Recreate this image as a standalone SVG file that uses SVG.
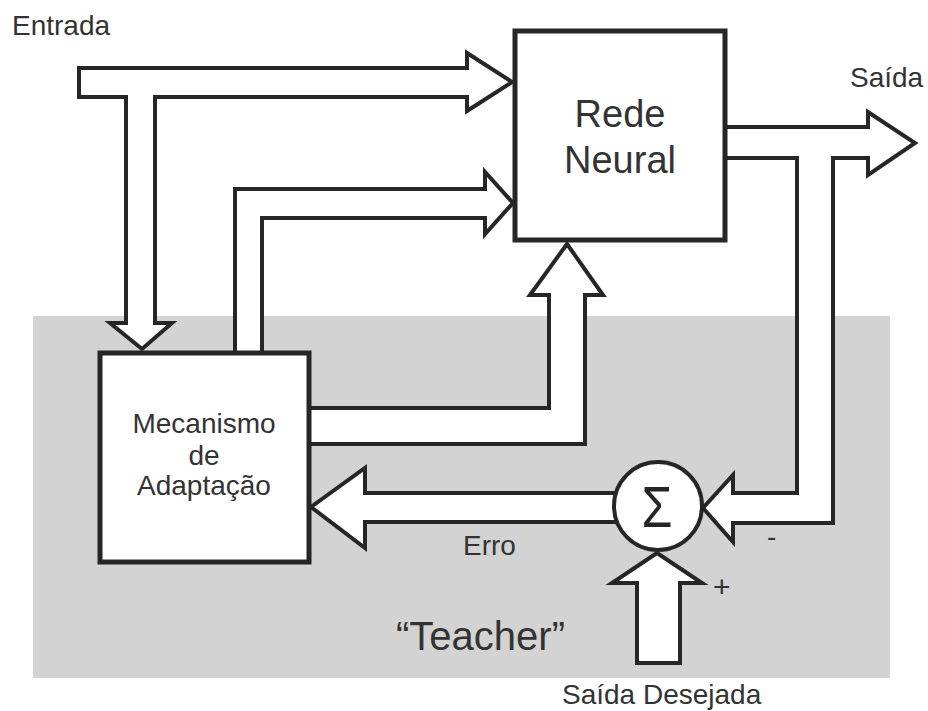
<svg xmlns="http://www.w3.org/2000/svg" width="928" height="711" viewBox="0 0 928 711">
<style>
.bg{fill:#d3d3d3}
.c{fill:#ffffff;stroke:#262626;stroke-width:4;stroke-linejoin:miter;stroke-miterlimit:10}
.box{fill:#ffffff;stroke:#262626;stroke-width:5}
text{font-family:"Liberation Sans",Arial,sans-serif;fill:#333333}
.t28{font-size:28px}
.t38{font-size:38px}
.mid{text-anchor:middle}
</style>
<rect width="928" height="711" fill="#ffffff"/>
<rect id="teacher-area" class="bg" x="33" y="316" width="857" height="362"/>
<g id="connectors">
<polygon class="c" points="79,68 467,68 467,53 512,82 467,111 467,97 155,97 155,323 172,323 142,349 110,323 126,323 126,97 79,97"/>
<polygon class="c" points="235,353 235,189 485,189 485,172 513,203 485,234 485,218 262,218 262,353"/>
<polygon class="c" points="309,408 549,408 549,295 530,295 567,244 603,295 585,295 585,444 309,444"/>
<polygon class="c" points="725,127 868,127 868,112 915,143 868,175 868,158 833,158 833,523 733,523 733,542 703,508 733,475 733,493 797,493 797,158 725,158"/>
<polygon class="c" points="620,493 365,493 365,468 311,507 365,548 365,522 620,522"/>
<polygon class="c" points="637,663 637,583 612,583 657,553 702,583 680,583 680,663"/>
</g>
<g id="rede-neural">
<rect class="box" x="515" y="31" width="210" height="209"/>
<text class="t38 mid" x="620" y="127">Rede</text>
<text class="t38 mid" x="620" y="173">Neural</text>
</g>
<g id="mecanismo">
<rect class="box" x="100" y="353" width="209" height="209"/>
<text class="t28 mid" x="204" y="433">Mecanismo</text>
<text class="t28 mid" x="204" y="465">de</text>
<text class="t28 mid" x="204" y="495">Adaptação</text>
</g>
<g id="somador">
<circle class="c" cx="658" cy="506" r="44"/>
<text x="657" y="527" font-size="58" class="mid" textLength="31" lengthAdjust="spacingAndGlyphs" style="fill:#262626">Σ</text>
</g>
<g id="labels">
<text class="t28" x="12" y="35">Entrada</text>
<text class="t28" x="850" y="87">Saída</text>
<text class="t28" x="463" y="555">Erro</text>
<text x="396" y="650" font-size="40">“Teacher”</text>
<text class="t28" x="562" y="704">Saída Desejada</text>
<text x="767" y="546" font-size="28">-</text>
<text x="713" y="597" font-size="30">+</text>
</g>
</svg>
